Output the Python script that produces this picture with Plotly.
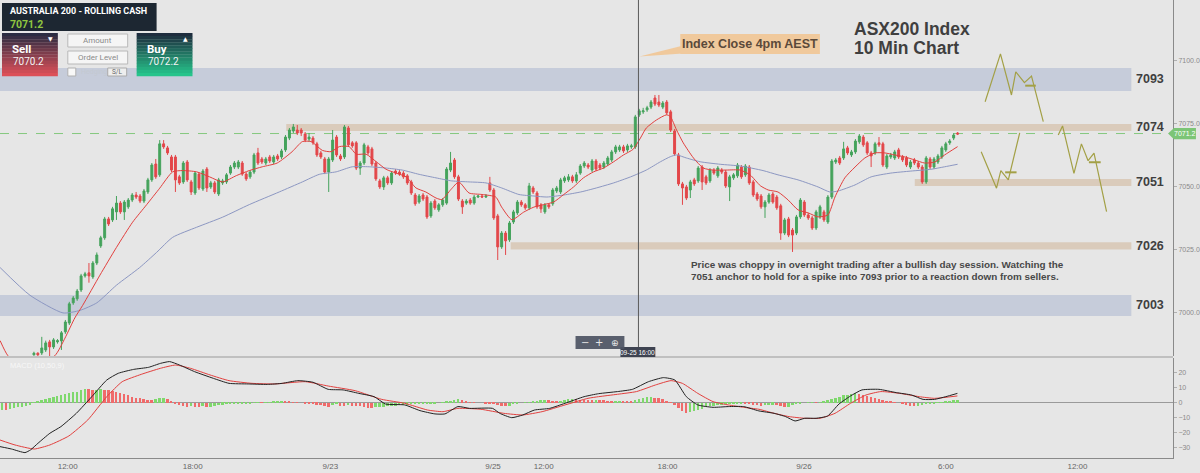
import plotly.graph_objects as go

# ASX200 10 minute candles, x = bar number (0 = first visible bar)
opens = [
    6983.4, 6984.0, 6984.1, 6985.3, 6988.5, 6986.5, 6988.5, 6988.9, 6992.5, 6996.0,
    7004.0, 7005.6, 7009.1, 7014.7, 7015.9, 7014.3, 7019.8, 7026.6, 7029.8, 7037.3,
    7036.9, 7040.1, 7043.6, 7040.1, 7042.1, 7044.8, 7046.8, 7046.4, 7044.4, 7048.0,
    7052.8, 7059.1, 7054.8, 7067.1, 7065.5, 7061.9, 7061.9, 7054.0, 7052.0, 7059.9,
    7052.0, 7047.6, 7055.1, 7049.2, 7057.1, 7050.0, 7051.6, 7047.2, 7051.6, 7052.0,
    7055.5, 7057.9, 7057.9, 7059.5, 7055.1, 7054.0, 7055.9, 7063.5, 7061.1, 7059.5,
    7061.9, 7059.9, 7062.3, 7061.9, 7064.7, 7069.4, 7072.2, 7072.6, 7072.6, 7071.0,
    7069.0, 7069.4, 7067.1, 7063.5, 7061.1, 7055.9, 7060.7, 7069.8, 7062.3, 7061.9,
    7073.4, 7067.5, 7067.5, 7057.5, 7059.5, 7065.9, 7065.1, 7059.5, 7052.4, 7050.0,
    7053.6, 7051.6, 7056.3, 7055.9, 7055.5, 7054.4, 7052.0, 7046.8, 7044.0, 7046.8,
    7046.0, 7038.5, 7044.4, 7040.9, 7042.9, 7043.6, 7056.7, 7060.7, 7054.0, 7044.4,
    7043.6, 7044.8, 7043.6, 7046.0, 7046.4, 7046.0, 7051.6, 7048.8, 7038.5, 7026.2,
    7031.7, 7029.0, 7036.1, 7039.7, 7044.0, 7042.9, 7041.7, 7049.6, 7047.6, 7042.9,
    7040.1, 7042.9, 7043.3, 7048.4, 7048.0, 7052.4, 7052.8, 7054.0, 7052.4, 7055.5,
    7058.3, 7058.7, 7056.7, 7060.3, 7058.7, 7057.9, 7059.1, 7060.7, 7063.9, 7064.7,
    7065.9, 7064.7, 7065.9, 7065.9, 7078.6, 7079.8, 7080.6, 7081.7, 7085.3, 7083.7,
    7081.7, 7083.7, 7079.8, 7072.2, 7062.7, 7051.2, 7050.0, 7048.8, 7052.8, 7052.4,
    7057.9, 7054.0, 7052.4, 7056.7, 7054.4, 7056.7, 7055.9, 7050.0, 7053.6, 7054.4,
    7057.9, 7054.8, 7057.9, 7052.0, 7047.2, 7046.4, 7042.1, 7044.0, 7047.2, 7046.0,
    7042.5, 7031.7, 7037.3, 7032.9, 7031.7, 7038.1, 7044.0, 7038.9, 7037.7, 7033.7,
    7038.1, 7040.1, 7036.1, 7046.0, 7059.9, 7061.5, 7061.5, 7065.5, 7062.7, 7063.9,
    7067.9, 7069.8, 7067.5, 7063.5, 7063.5, 7067.5, 7067.1, 7057.9, 7061.9, 7061.5,
    7064.7, 7061.9, 7061.5, 7057.9, 7060.7, 7059.5, 7057.9, 7052.0, 7061.1, 7057.9,
    7059.9, 7061.9, 7064.7, 7067.5, 7069.4, 7071.4,
]
highs = [
    6984.6, 6984.4, 6990.5, 6989.0, 6989.3, 6990.0, 6989.6, 6992.8, 6997.2, 7004.4,
    7006.7, 7009.5, 7015.5, 7016.3, 7019.8, 7020.6, 7024.0, 7030.6, 7038.1, 7038.1,
    7042.1, 7046.4, 7044.4, 7044.8, 7045.6, 7047.6, 7048.0, 7047.2, 7049.2, 7053.6,
    7059.5, 7061.1, 7068.6, 7068.6, 7066.3, 7062.7, 7062.7, 7054.8, 7060.3, 7060.7,
    7052.8, 7056.3, 7055.9, 7057.1, 7057.9, 7052.4, 7052.4, 7053.6, 7053.2, 7055.5,
    7058.7, 7060.3, 7060.7, 7060.3, 7055.9, 7056.7, 7063.5, 7065.5, 7061.9, 7061.9,
    7062.7, 7062.7, 7063.1, 7065.1, 7070.6, 7073.4, 7075.0, 7074.6, 7073.4, 7071.8,
    7071.4, 7070.2, 7067.9, 7064.3, 7061.9, 7061.9, 7072.6, 7070.6, 7063.1, 7074.6,
    7074.2, 7068.2, 7068.2, 7060.3, 7067.5, 7066.7, 7065.9, 7060.3, 7053.2, 7054.4,
    7054.4, 7056.3, 7057.1, 7056.7, 7056.3, 7055.1, 7052.8, 7047.6, 7047.2, 7047.6,
    7046.8, 7044.4, 7045.2, 7043.6, 7045.6, 7057.9, 7063.9, 7061.5, 7054.8, 7045.2,
    7045.2, 7045.6, 7046.8, 7046.8, 7046.8, 7047.2, 7054.0, 7049.6, 7039.3, 7032.5,
    7032.5, 7036.5, 7040.9, 7044.8, 7044.8, 7043.6, 7051.6, 7050.4, 7048.4, 7043.6,
    7043.6, 7043.6, 7049.6, 7050.4, 7053.6, 7054.4, 7055.1, 7054.8, 7055.9, 7059.1,
    7060.3, 7059.5, 7061.1, 7061.1, 7059.5, 7060.3, 7062.3, 7064.7, 7066.7, 7066.7,
    7066.7, 7067.1, 7067.1, 7078.6, 7081.0, 7081.4, 7082.2, 7084.5, 7086.5, 7086.5,
    7084.1, 7084.5, 7080.6, 7073.0, 7063.5, 7052.0, 7050.8, 7052.8, 7053.6, 7058.3,
    7058.7, 7054.8, 7057.5, 7057.5, 7058.3, 7057.5, 7056.7, 7054.8, 7055.5, 7059.5,
    7058.7, 7059.1, 7058.7, 7052.8, 7048.0, 7047.2, 7044.8, 7047.6, 7048.0, 7046.8,
    7043.3, 7037.7, 7038.1, 7033.7, 7038.9, 7045.6, 7044.8, 7039.7, 7038.5, 7040.9,
    7042.9, 7040.9, 7046.8, 7061.1, 7061.5, 7062.3, 7067.9, 7066.3, 7064.7, 7069.0,
    7071.0, 7070.6, 7068.2, 7064.3, 7067.9, 7069.8, 7067.9, 7063.1, 7063.5, 7064.7,
    7065.5, 7062.7, 7062.3, 7060.7, 7061.5, 7060.3, 7058.7, 7062.3, 7061.9, 7061.9,
    7063.1, 7066.3, 7067.9, 7069.0, 7071.4, 7071.8,
]
lows = [
    6983.0, 6982.8, 6983.3, 6984.5, 6982.6, 6985.7, 6987.8, 6985.3, 6991.7, 6995.2,
    7003.2, 7004.8, 7008.3, 7014.0, 7012.0, 7013.5, 7019.0, 7025.8, 7029.0, 7034.5,
    7036.1, 7036.9, 7039.3, 7036.9, 7041.3, 7044.0, 7045.2, 7043.6, 7043.6, 7047.2,
    7052.0, 7053.2, 7054.0, 7065.1, 7062.7, 7055.9, 7048.0, 7050.8, 7051.2, 7052.0,
    7046.8, 7046.8, 7048.8, 7048.4, 7048.0, 7049.2, 7047.2, 7046.4, 7050.8, 7051.2,
    7054.8, 7057.1, 7057.1, 7054.4, 7052.4, 7053.2, 7055.1, 7058.7, 7059.1, 7058.7,
    7059.5, 7059.1, 7060.3, 7061.1, 7063.9, 7068.6, 7071.4, 7070.6, 7070.2, 7067.8,
    7067.9, 7066.7, 7061.9, 7061.1, 7055.1, 7048.0, 7059.9, 7061.9, 7060.3, 7061.1,
    7065.9, 7065.5, 7056.7, 7054.8, 7058.7, 7062.7, 7058.3, 7052.4, 7049.2, 7048.8,
    7050.8, 7050.8, 7054.8, 7054.4, 7053.2, 7050.8, 7046.8, 7042.5, 7043.3, 7044.4,
    7037.3, 7037.7, 7040.9, 7040.1, 7042.1, 7042.9, 7055.9, 7053.2, 7044.4, 7039.3,
    7042.9, 7042.9, 7042.9, 7045.6, 7045.6, 7045.6, 7048.0, 7036.9, 7021.0, 7025.4,
    7023.0, 7028.2, 7035.3, 7038.9, 7042.1, 7040.9, 7040.9, 7047.2, 7041.3, 7039.7,
    7039.3, 7041.3, 7042.5, 7047.6, 7047.2, 7051.6, 7052.0, 7051.6, 7051.6, 7054.8,
    7057.5, 7057.1, 7055.9, 7056.3, 7056.7, 7057.1, 7058.3, 7059.9, 7063.1, 7063.9,
    7063.5, 7063.9, 7065.1, 7065.1, 7077.8, 7079.0, 7079.8, 7080.9, 7082.1, 7081.7,
    7080.9, 7078.6, 7071.8, 7062.3, 7050.4, 7042.9, 7044.8, 7045.6, 7050.4, 7051.6,
    7048.8, 7050.8, 7051.6, 7054.8, 7053.6, 7055.1, 7049.6, 7044.4, 7052.8, 7053.6,
    7053.2, 7054.0, 7050.8, 7046.0, 7044.4, 7041.3, 7037.7, 7043.3, 7043.3, 7040.9,
    7029.0, 7030.9, 7030.1, 7024.2, 7030.9, 7037.3, 7038.1, 7036.9, 7032.9, 7032.9,
    7037.3, 7036.1, 7035.3, 7045.2, 7059.1, 7058.7, 7060.7, 7062.7, 7061.9, 7063.1,
    7067.1, 7065.9, 7062.7, 7057.9, 7062.7, 7065.9, 7057.9, 7057.1, 7061.1, 7060.7,
    7061.1, 7059.9, 7057.9, 7057.1, 7058.7, 7057.1, 7051.2, 7051.2, 7057.1, 7057.1,
    7059.1, 7061.1, 7063.9, 7066.7, 7068.6, 7070.6,
]
closes = [
    6984.0, 6983.4, 6986.1, 6988.1, 6986.5, 6989.3, 6989.0, 6992.1, 6996.4, 7003.6,
    7005.9, 7008.7, 7014.7, 7015.5, 7014.7, 7019.8, 7023.0, 7029.8, 7037.3, 7035.3,
    7041.3, 7043.6, 7040.1, 7044.0, 7044.8, 7046.8, 7046.0, 7044.4, 7048.4, 7052.8,
    7058.7, 7054.0, 7067.1, 7065.9, 7063.5, 7056.7, 7052.8, 7051.6, 7059.5, 7052.8,
    7048.0, 7055.5, 7049.6, 7056.3, 7049.6, 7051.6, 7048.0, 7052.8, 7052.4, 7054.8,
    7057.9, 7059.5, 7059.9, 7055.1, 7053.2, 7055.9, 7062.7, 7059.5, 7059.9, 7061.1,
    7060.3, 7061.9, 7061.1, 7064.3, 7069.8, 7072.6, 7073.8, 7071.4, 7071.4, 7068.6,
    7069.8, 7067.5, 7062.7, 7061.9, 7055.9, 7061.1, 7068.6, 7062.7, 7061.1, 7073.8,
    7066.7, 7066.3, 7057.5, 7059.5, 7066.7, 7063.5, 7059.1, 7053.2, 7050.0, 7053.6,
    7051.6, 7055.5, 7055.5, 7055.1, 7054.0, 7051.6, 7047.6, 7043.3, 7046.4, 7045.2,
    7038.1, 7043.6, 7041.7, 7042.9, 7044.8, 7057.1, 7059.5, 7054.0, 7045.2, 7042.1,
    7044.4, 7043.6, 7046.0, 7046.4, 7046.0, 7046.4, 7048.8, 7037.7, 7026.2, 7031.7,
    7028.6, 7035.7, 7040.1, 7044.0, 7042.9, 7041.7, 7050.4, 7048.0, 7042.1, 7041.3,
    7042.9, 7042.1, 7048.8, 7049.6, 7052.8, 7053.6, 7054.0, 7052.4, 7054.8, 7058.3,
    7059.5, 7057.9, 7060.3, 7057.1, 7057.5, 7059.5, 7061.5, 7063.9, 7065.9, 7065.9,
    7064.3, 7066.3, 7066.3, 7077.8, 7080.2, 7080.2, 7081.4, 7083.7, 7082.9, 7082.5,
    7083.3, 7079.4, 7072.6, 7063.1, 7051.2, 7049.6, 7045.6, 7052.0, 7051.2, 7057.5,
    7052.0, 7051.6, 7056.7, 7055.5, 7057.5, 7055.9, 7050.4, 7054.0, 7054.8, 7058.7,
    7054.0, 7058.3, 7051.6, 7046.8, 7045.2, 7042.1, 7044.0, 7046.8, 7044.0, 7041.7,
    7031.7, 7036.9, 7030.9, 7030.9, 7038.1, 7044.8, 7038.9, 7037.7, 7033.7, 7040.1,
    7042.1, 7036.9, 7046.0, 7060.3, 7060.7, 7059.5, 7065.1, 7063.5, 7063.9, 7068.2,
    7070.2, 7066.7, 7063.5, 7062.3, 7067.1, 7066.7, 7058.7, 7062.3, 7062.7, 7063.9,
    7061.9, 7060.7, 7058.7, 7059.9, 7059.5, 7057.9, 7052.0, 7061.5, 7057.9, 7061.1,
    7062.3, 7065.5, 7067.1, 7068.2, 7070.6, 7071.0,
]

# moving averages (fast red, slow blue), read every few bars
ma_fast_x = [-8.6, -6.6, -2.0, 5.3, 7.9, 10.4, 12.4, 16.8, 21.0, 25.1,
             28.7, 32.0, 35.3, 37.8, 41.4, 44.7, 48.0, 51.5, 54.8, 58.1,
             61.9, 65.7, 68.3, 70.6, 71.8, 73.4, 75.6, 77.7, 80.2, 82.0,
             84.5, 87.1, 89.6, 92.1, 94.7, 97.2, 99.7, 102.3, 103.8, 106.1,
             108.1, 110.7, 114.0, 117.5, 119.0, 121.6, 124.6, 127.2, 129.7, 132.2,
             134.8, 137.3, 139.8, 142.4, 144.9, 147.5, 150.0, 152.5, 154.3, 155.8,
             158.4, 160.9, 161.9, 163.5, 165.2, 167.8, 170.3, 172.8, 176.1, 179.7,
             182.2, 184.8, 186.8, 189.3, 191.9, 194.4, 197.0, 199.5, 202.0, 203.8,
             206.3, 208.9, 211.4, 214.0, 216.5, 219.0, 221.6, 224.1, 226.6, 229.2,
             231.7, 235.0]
ma_fast = [6989, 6983, 6978, 6983, 6990, 6998, 7003, 7015, 7026, 7036,
           7043, 7049.5, 7056, 7056.5, 7056, 7054, 7052, 7054.5, 7056.5, 7058,
           7059.5, 7064, 7068, 7068, 7066.5, 7064.5, 7064, 7066, 7066, 7063,
           7063, 7060, 7057, 7055.5, 7054, 7049.6, 7048, 7045.6, 7045, 7049,
           7052, 7047.6, 7047, 7046, 7042, 7037, 7040, 7042, 7043, 7044,
           7047, 7050, 7053.6, 7056, 7057.5, 7060, 7062.7, 7065, 7069.4, 7073.4,
           7076.6, 7078.6, 7078, 7072.6, 7067.5, 7061.5, 7057.5, 7056.7, 7056.7, 7056.7,
           7054.8, 7050.5, 7048.8, 7048, 7044.8, 7040.9, 7039.7, 7038.1, 7038.9, 7046,
           7053.6, 7057.9, 7061.5, 7063.5, 7063.5, 7062.7, 7061.9, 7060.7, 7059.5, 7059.9,
           7062.7, 7066]
ma_slow_x = [-8.6, -1.0, 7.4, 11.7, 16.0, 21.0, 26.9, 31.2, 35.3, 41.4,
             48.0, 54.8, 62.4, 68.3, 72.6, 76.9, 81.0, 85.3, 89.6, 93.7,
             98.0, 102.3, 106.3, 110.7, 115.0, 119.0, 123.4, 127.2, 130.5, 134.8,
             139.1, 143.1, 147.5, 151.8, 155.8, 159.4, 161.9, 163.5, 166.0, 169.5,
             174.6, 179.7, 185.5, 189.3, 194.4, 199.5, 202.5, 204.6, 208.9, 213.0,
             218.0, 223.1, 228.2, 231.7, 235.0]
ma_slow = [7018, 7007, 7000, 7001, 7004, 7011, 7018, 7024, 7030, 7034,
           7038, 7043, 7048, 7052, 7055, 7056, 7058, 7058, 7057.5, 7056.7,
           7055, 7053.6, 7052.4, 7052, 7051.6, 7049.6, 7047, 7046.4, 7046, 7046.8,
           7048, 7049.6, 7051.6, 7054, 7056.7, 7060, 7062, 7062.7, 7061.5, 7060,
           7059, 7058.3, 7056.5, 7054.8, 7052.8, 7050, 7048, 7048.4, 7050.8, 7054,
           7055.5, 7056.3, 7057, 7058, 7059]

# MACD (10,50,9)
macd_x = [-8.63, -5.71, -2.28, -0.86, 1.02, 4.06, 6.85, 10.79, 14.72, 18.53,
          21.47, 25.38, 29.19, 32.16, 34.52, 37.06, 40.86, 45.69, 49.64, 54.52,
          59.39, 63.2, 67.13, 71.02, 74.87, 78.68, 82.66, 86.55, 89.47, 94.34,
          98.22, 102.03, 104.57, 107.87, 110.84, 116.68, 118.53, 121.57, 124.37, 127.36,
          131.22, 135.13, 139.97, 143.65, 148.48, 152.28, 156.35, 160.15, 163.07, 165.99,
          168.91, 172.79, 176.65, 180.56, 184.44, 188.32, 191.24, 193.65, 196.12, 198.98,
          201.93, 204.82, 207.77, 210.66, 214.97, 219.42, 223.3, 226.22, 229.14, 231.98,
          234.95]
macd_line = [-29.1, -30.7, -33.1, -31.3, -26.9, -20.2, -15.8, -6.9, 4.2, 15.3,
             19.8, 22.4, 23.8, 26.4, 27.6, 25.3, 20.9, 16.4, 13.1, 12.7,
             12.4, 13.1, 14.9, 13.8, 9.1, 8.7, 6.4, 4.2, -0.7, -1.3,
             -5.1, -7.3, -7.3, -2.4, -3.6, -3.6, -6.9, -9.8, -8.0, -4.7,
             -3.6, -0.2, 4.2, 6.2, 7.6, 9.1, 14.2, 16.9, 15.3, 4.2,
             -1.3, -2.9, -2.4, -2.4, -5.3, -6.9, -9.1, -12.0, -10.2, -10.2,
             -8.7, -0.7, 4.7, 8.7, 9.1, 6.9, 5.3, 2.4, 2.4, 4.2,
             6.4]
signal_x = [-8.63, -4.82, 0.1, 4.06, 8.88, 13.71, 18.53, 22.46, 27.31, 32.16,
            36.04, 39.85, 44.8, 49.64, 55.48, 61.29, 69.04, 74.87, 81.73, 88.5,
            94.34, 100.15, 104.06, 107.87, 113.71, 119.54, 124.37, 129.29, 135.13, 140.96,
            143.65, 148.48, 153.3, 158.12, 162.11, 164.97, 168.91, 172.79, 176.65, 180.56,
            184.44, 188.32, 192.13, 196.12, 200.0, 203.81, 207.77, 211.68, 215.48, 220.3,
            225.25, 229.14, 234.95]
signal_line = [-24.7, -28.0, -30.7, -28.0, -22.0, -11.3, 4.2, 14.2, 19.1, 23.1,
               25.3, 23.1, 18.7, 14.9, 13.1, 12.7, 14.2, 11.3, 8.2, 2.4,
               -0.2, -4.7, -5.8, -3.6, -4.2, -6.9, -8.0, -5.8, -1.3, 3.1,
               4.2, 5.8, 7.6, 12.0, 14.9, 13.1, 6.4, 0.9, -1.3, -2.9,
               -4.2, -6.9, -9.1, -10.2, -10.2, -6.9, -0.2, 5.3, 7.6, 6.4,
               4.2, 3.1, 4.7]
hist_first_bar = -8
hist = [
    -4.5, -4.6, -4.0, -3.5, -3.0, -2.5, -2.0, -1.2,
    0.3, 1.0, 1.8, 2.6, 3.4, 4.2, 4.8, 5.4, 6.0, 6.5,
    7.0, 7.6, 8.6, 9.2, 9.0, 8.7, 8.9, 9.1, 8.9, 8.5,
    7.8, 7.2, 6.5, 5.8, 5.0, 4.3, 3.6, 3.0, 2.5, 2.2,
    2.0, 2.6, 3.0, 3.1, 2.8, 1.2, -0.5, -1.2, -1.8, -2.4,
    -2.0, -2.6, -3.0, -2.2, -2.8, -2.5, -2.0, -1.5, -1.2, -1.0,
    -0.8, -0.6, -0.5, -0.4, -0.3, -0.2, 0.1, 0.2, 0.1, 0.2,
    0.5, 0.8, 1.0, 1.2, 1.0, 0.8, 0.5, 0.2, 0.0, -0.2,
    -0.5, -0.8, -1.2, -1.5, -2.2, -2.6, -1.5, -1.0, -1.8, -2.0,
    -1.5, -1.8, -2.0, -2.3, -2.8, -3.2, -3.5, -3.0, -2.8, -2.5,
    -2.2, -2.0, -1.8, -1.5, -1.3, -1.2, -1.0, -0.9, -0.8, -0.6,
    -0.5, -0.4, -0.2, 0.0, 0.3, 0.8, 1.2, 2.0, 2.6, 2.0,
    0.8, 0.3, 0.1, 0.0, 0.0, -0.1, -0.3, -0.8, -1.5, -2.0,
    -2.2, -1.8, -1.0, -0.4, 0.0, 0.3, 0.5, 1.0, 1.5, 2.0,
    2.2, 1.8, 1.5, 1.4, 1.6, 2.0, 2.4, 2.6, 2.5, 2.3,
    2.1, 2.0, 1.9, 2.0, 1.9, 1.8, 1.6, 1.4, 1.5, 1.6,
    1.5, 1.4, 1.3, 2.0, 2.8, 3.3, 3.7, 3.9, 3.6, 3.0,
    2.4, 1.6, 0.5, -1.5, -3.5, -5.5, -6.8, -6.0, -5.2, -4.5,
    -3.7, -3.0, -2.3, -1.8, -1.4, -1.1, -0.9, -0.7, -0.5, -0.3,
    -0.2, -0.3, -0.8, -1.3, -1.6, -1.8, -1.6, -1.4, -1.2, -1.6,
    -2.2, -2.8, -2.4, -1.6, -0.8, -0.3, 0.0, 0.2, 0.5, 0.4,
    0.6, 0.9, 1.8, 2.8, 3.6, 4.3, 5.0, 5.6, 6.1, 6.4,
    6.0, 5.5, 4.8, 4.0, 3.4, 2.8, 2.2, 1.6, 0.8, 0.3,
    0.0, -0.3, -1.2, -1.8, -2.3, -2.0, -1.4, -1.0, -0.6, -0.3,
    0.1, 0.6, 1.0, 1.4, 1.8, 2.1,
]

# time labels along the bottom (bar position, text)
tick_pos = [8.6, 40.4, 75.4, 116.8, 129.7, 161.2, 195.9, 232.0, 265.5]
tick_text = ["12:00", "18:00", "9/23", "9/25", "12:00", "18:00", "9/26", "6:00", "12:00"]
cross_bar = 153.8
cross_label = "09-25 16:00"

# support / resistance zones
zone_names = ["7093", "7074", "7051", "7026", "7003"]
zone_low = [7088.1, 7072.2, 7050.4, 7025.2, 6998.8]
zone_high = [7097.2, 7075.0, 7053.2, 7028.0, 7007.1]
zone_start = [-8.63, 64.2, 224.1, 121.3, -8.63]
zone_blue = [True, False, False, False, True]
zone_end = 279.2

last_price = 7071.2
sell_price = "7070.2"
buy_price = "7072.2"

# hand drawn projections (bar, price)
proj_a_x = [242.0, 245.9, 248.7, 249.8, 252.0, 253.8, 256.8]
proj_a_y = [7083.8, 7102.8, 7086.5, 7095.7, 7091.4, 7094.0, 7075.9]
proj_b_x = [241.0, 244.9, 246.0, 247.9, 250.8]
proj_b_y = [7064.0, 7049.5, 7056.5, 7052.8, 7071.5]
proj_c_x = [260.6, 261.7, 264.6, 266.5, 268.2, 269.7, 272.9]
proj_c_y = [7070.6, 7074.2, 7055.4, 7067.1, 7060.4, 7063.4, 7040.2]
proj_ticks = [(252.2, 254.9, 7090.2), (247.1, 250.0, 7055.8), (268.4, 271.4, 7059.8)]

if not (len(opens) == len(highs) == len(lows) == len(closes)):
    raise ValueError("candle lists differ in length")

W, H = 1200, 473
ML, MR, MT, MB = 0, 24, 0, 15
PW, PH = W - ML - MR, H - MT - MB


def fx(px):
    return (px - ML) / PW


def fy(py):
    return (MT + PH - py) / PH


BG = "#e6e6e6"
GREEN = "#45a35c"
RED = "#e3474a"
OLIVE = "#a3a046"
TXT = "#3f3f3f"

fig = go.Figure()

bars = list(range(len(closes)))
fig.add_trace(go.Candlestick(
    x=bars, open=opens, high=highs, low=lows, close=closes,
    increasing=dict(line=dict(color=GREEN, width=1), fillcolor=GREEN),
    decreasing=dict(line=dict(color=RED, width=1), fillcolor=RED),
    whiskerwidth=0, hoverinfo="skip", yaxis="y",
))
fig.add_trace(go.Scatter(x=ma_slow_x, y=ma_slow, mode="lines", yaxis="y",
                         line=dict(color="#8c97c2", width=1, shape="spline", smoothing=0.6),
                         hoverinfo="skip"))
fig.add_trace(go.Scatter(x=ma_fast_x, y=ma_fast, mode="lines", yaxis="y",
                         line=dict(color="#e2403e", width=1, shape="spline", smoothing=0.6),
                         hoverinfo="skip"))

for px_, py_ in [(proj_a_x, proj_a_y), (proj_b_x, proj_b_y), (proj_c_x, proj_c_y)]:
    fig.add_trace(go.Scatter(x=px_, y=py_, mode="lines", yaxis="y",
                             line=dict(color=OLIVE, width=1.2), hoverinfo="skip"))
for x0, x1, lvl in proj_ticks:
    fig.add_trace(go.Scatter(x=[x0, x1], y=[lvl, lvl], mode="lines", yaxis="y",
                             line=dict(color=OLIVE, width=2), hoverinfo="skip"))

# MACD panel
hist_x = [hist_first_bar + k for k in range(len(hist))]
hist_col = []
for k, v in enumerate(hist):
    prev = hist[k - 1] if k > 0 else v - 1
    hist_col.append("#7fd86d" if v >= prev else "#f06b6b")
fig.add_trace(go.Bar(x=hist_x, y=hist, marker=dict(color=hist_col, line=dict(width=0)),
                     width=0.5, yaxis="y2", hoverinfo="skip"))
fig.add_trace(go.Scatter(x=signal_x, y=signal_line, mode="lines", yaxis="y2",
                         line=dict(color="#e2403e", width=1, shape="spline", smoothing=0.5),
                         hoverinfo="skip"))
fig.add_trace(go.Scatter(x=macd_x, y=macd_line, mode="lines", yaxis="y2",
                         line=dict(color="#222222", width=1, shape="spline", smoothing=0.5),
                         hoverinfo="skip"))

shapes = []
ann = []

# zones
for name, lo, hi, st, blue in zip(zone_names, zone_low, zone_high, zone_start, zone_blue):
    shapes.append(dict(type="rect", xref="x", yref="y", x0=st, x1=zone_end, y0=lo, y1=hi,
                       fillcolor="#c6ccda" if blue else "#dacbbb", line=dict(width=0),
                       layer="below"))
    ann.append(dict(text="<b>%s</b>" % name, xref="paper", yref="y", x=fx(1137), y=(lo + hi) / 2,
                    xanchor="left", yanchor="middle", showarrow=False,
                    font=dict(family="Liberation Sans", size=12.5, color=TXT)))

# last price line and tag
shapes.append(dict(type="line", xref="paper", yref="y", x0=0, x1=1, y0=last_price, y1=last_price,
                   line=dict(color="#86c97f", width=1, dash="dash"), layer="below"))

# panel separator and crosshair
shapes.append(dict(type="line", xref="paper", yref="paper", x0=0, x1=1, y0=fy(357), y1=fy(357),
                   line=dict(color="#9a9a9a", width=1)))
shapes.append(dict(type="line", xref="x", yref="paper", x0=cross_bar, x1=cross_bar, y0=fy(357), y1=1,
                   line=dict(color="#5a5a5a", width=1)))


def rect(x0, y0, x1, y1, fill, line=None, opacity=1):
    shapes.append(dict(type="rect", xref="paper", yref="paper", x0=fx(x0), x1=fx(x1),
                       y0=fy(y1), y1=fy(y0), fillcolor=fill, opacity=opacity,
                       line=line or dict(width=0), layer="above"))


def path(pts, fill):
    d = "M " + " L ".join("%f,%f" % (fx(a), fy(b)) for a, b in pts) + " Z"
    shapes.append(dict(type="path", xref="paper", yref="paper", path=d, fillcolor=fill,
                       line=dict(width=0), layer="above"))


def label(txt, x, y, size, color, anchor="left", family="Liberation Sans", bold=False):
    ann.append(dict(text=("<b>%s</b>" % txt) if bold else txt, xref="paper", yref="paper",
                    x=fx(x), y=fy(y), xanchor=anchor, yanchor="middle", showarrow=False,
                    font=dict(family=family, size=size, color=color)))


def hexrgb(h):
    h = h.lstrip("#")
    return [int(h[i:i + 2], 16) for i in (0, 2, 4)]


def grad_box(x0, y0, x1, y1, top, bot, n=14):
    a, b = hexrgb(top), hexrgb(bot)
    step = (y1 - y0) / n
    for k in range(n):
        t = k / (n - 1)
        c = "rgb(%d,%d,%d)" % tuple(round(a[i] + (b[i] - a[i]) * t) for i in range(3))
        rect(x0, y0 + k * step, x1, y0 + (k + 1) * step + 0.3, c)


# price tag on the axis
path([(1171, 133.6), (1177, 128), (1199, 128), (1199, 139.2), (1177, 139.2)], "#7cc576")
label("%.1f" % last_price, 1188, 133.8, 7, "white", anchor="center")

# crosshair date label and zoom control
rect(622, 347, 657, 357, "#3e4351")
label(cross_label, 639.5, 352, 6.5, "white", anchor="center")
rect(577, 336, 626, 349, "#4d5463", opacity=0.92)
label("−", 586, 342.5, 10, "#e8e8e8", anchor="center", family="DejaVu Sans")
label("+", 601, 342.5, 10, "#e8e8e8", anchor="center", family="DejaVu Sans")
label("⊕", 617, 342.5, 9, "#e8e8e8", anchor="center", family="DejaVu Sans")

# callout box
path([(683, 46), (692, 53), (641, 56.5)], "#f0c99c")
shapes.append(dict(type="rect", xref="paper", yref="paper", x0=fx(682), x1=fx(822),
                   y0=fy(54), y1=fy(34), fillcolor="#f0c99c", line=dict(width=0), layer="above"))
label("Index Close 4pm AEST", 752, 44, 12.5, "#5b4a3a", anchor="center", bold=True)

# chart title
label("ASX200 Index", 854, 29.5, 17.5, TXT, bold=True)
label("10 Min Chart", 854, 48, 17.5, TXT, bold=True)

# commentary
label("Price was choppy in overnight trading after a bullish day session. Watching the",
      691, 264.5, 9.9, "#484848", bold=True)
label("7051 anchor to hold for a spike into 7093 prior to a reaction down from sellers.",
      691, 276.5, 9.9, "#484848", bold=True)

# MACD title
label("MACD (10,50,9)", 8, 365, 7.5, "#f7f7f7")

# trading widget
rect(2, 3, 157, 31, "#1d2732")
label("AUSTRALIA 200 - ROLLING CASH", 8, 11.5, 9, "white", family="Roboto", bold=True)
label("%.1f" % last_price, 8, 25, 10.5, "#8fc640", family="Roboto", bold=True)
grad_box(2, 33, 58, 76, "#2b2c42", "#dc5058")
label("Sell", 10, 49, 11.5, "white", family="Roboto", bold=True)
label(sell_price, 11, 62, 10, "#f4f4f4", family="Roboto")
label("▼", 51, 38.5, 6, "white", anchor="center", family="DejaVu Sans")
grad_box(137, 33, 193, 76, "#1e2d3e", "#26c48b")
label("Buy", 145, 49, 11.5, "white", family="Roboto", bold=True)
label(buy_price, 146, 62, 10, "#f4f4f4", family="Roboto")
label("▲", 186, 38.5, 6, "white", anchor="center", family="DejaVu Sans")
rect(68, 34, 128, 47, "#f5f5f5", line=dict(color="#b8b8b8", width=1))
label("Amount", 98, 40.5, 8, "#8a8a8a", anchor="center", family="Roboto")
rect(68, 51, 128, 64, "#f5f5f5", line=dict(color="#b8b8b8", width=1))
label("Order Level", 98, 57.5, 8, "#8a8a8a", anchor="center", family="Roboto")
rect(68, 68, 76, 76, "#f8f8f8", line=dict(color="#b0b0b0", width=1))
label("Hedging", 79, 72, 7, "#c4c9d1", family="Roboto")
rect(108, 68, 127, 76, "#eeeeee", line=dict(color="#aaaaaa", width=1))
label("S/L", 117.5, 72, 6.5, "#666666", anchor="center", family="Roboto")

axis_font = dict(family="Liberation Sans", size=7, color="#8a8a8a")
fig.update_layout(
    width=W, height=H, autosize=False,
    margin=dict(l=ML, r=MR, t=MT, b=MB, pad=0),
    paper_bgcolor=BG, plot_bgcolor=BG,
    showlegend=False, hovermode=False, bargap=0,
    shapes=shapes, annotations=ann,
    xaxis=dict(range=[-8.63, 289.8], anchor="y2", tickvals=tick_pos, ticktext=tick_text,
               tickfont=dict(family="Liberation Sans", size=8, color="#666666"),
               showgrid=False, zeroline=False, showline=True, linecolor="#8a8a8a",
               ticks="", rangeslider=dict(visible=False), fixedrange=True),
    yaxis=dict(domain=[fy(356), 1], range=[6982.9, 7124.2], side="right", anchor="x",
               tickvals=[7000, 7025, 7050, 7075, 7100], tickformat=".1f", tickfont=axis_font,
               ticks="outside", ticklen=3, tickcolor="#b0b0b0",
               showgrid=False, zeroline=False, showline=True, linecolor="#8a8a8a"),
    yaxis2=dict(domain=[0, fy(358)], range=[-36.7, 30], side="right", anchor="x",
                tickvals=[-30, -20, -10, 0, 10, 20], tickfont=axis_font,
                ticks="outside", ticklen=3, tickcolor="#b0b0b0",
                showgrid=False, zeroline=True, zerolinecolor="#9a9a9a", zerolinewidth=1,
                showline=True, linecolor="#8a8a8a"),
)

# the page body has a default 8px margin; drop it so the figure fills the window
fig.write_html("out.html", config={"displayModeBar": False},
               post_script="document.body.style.margin='0';")
